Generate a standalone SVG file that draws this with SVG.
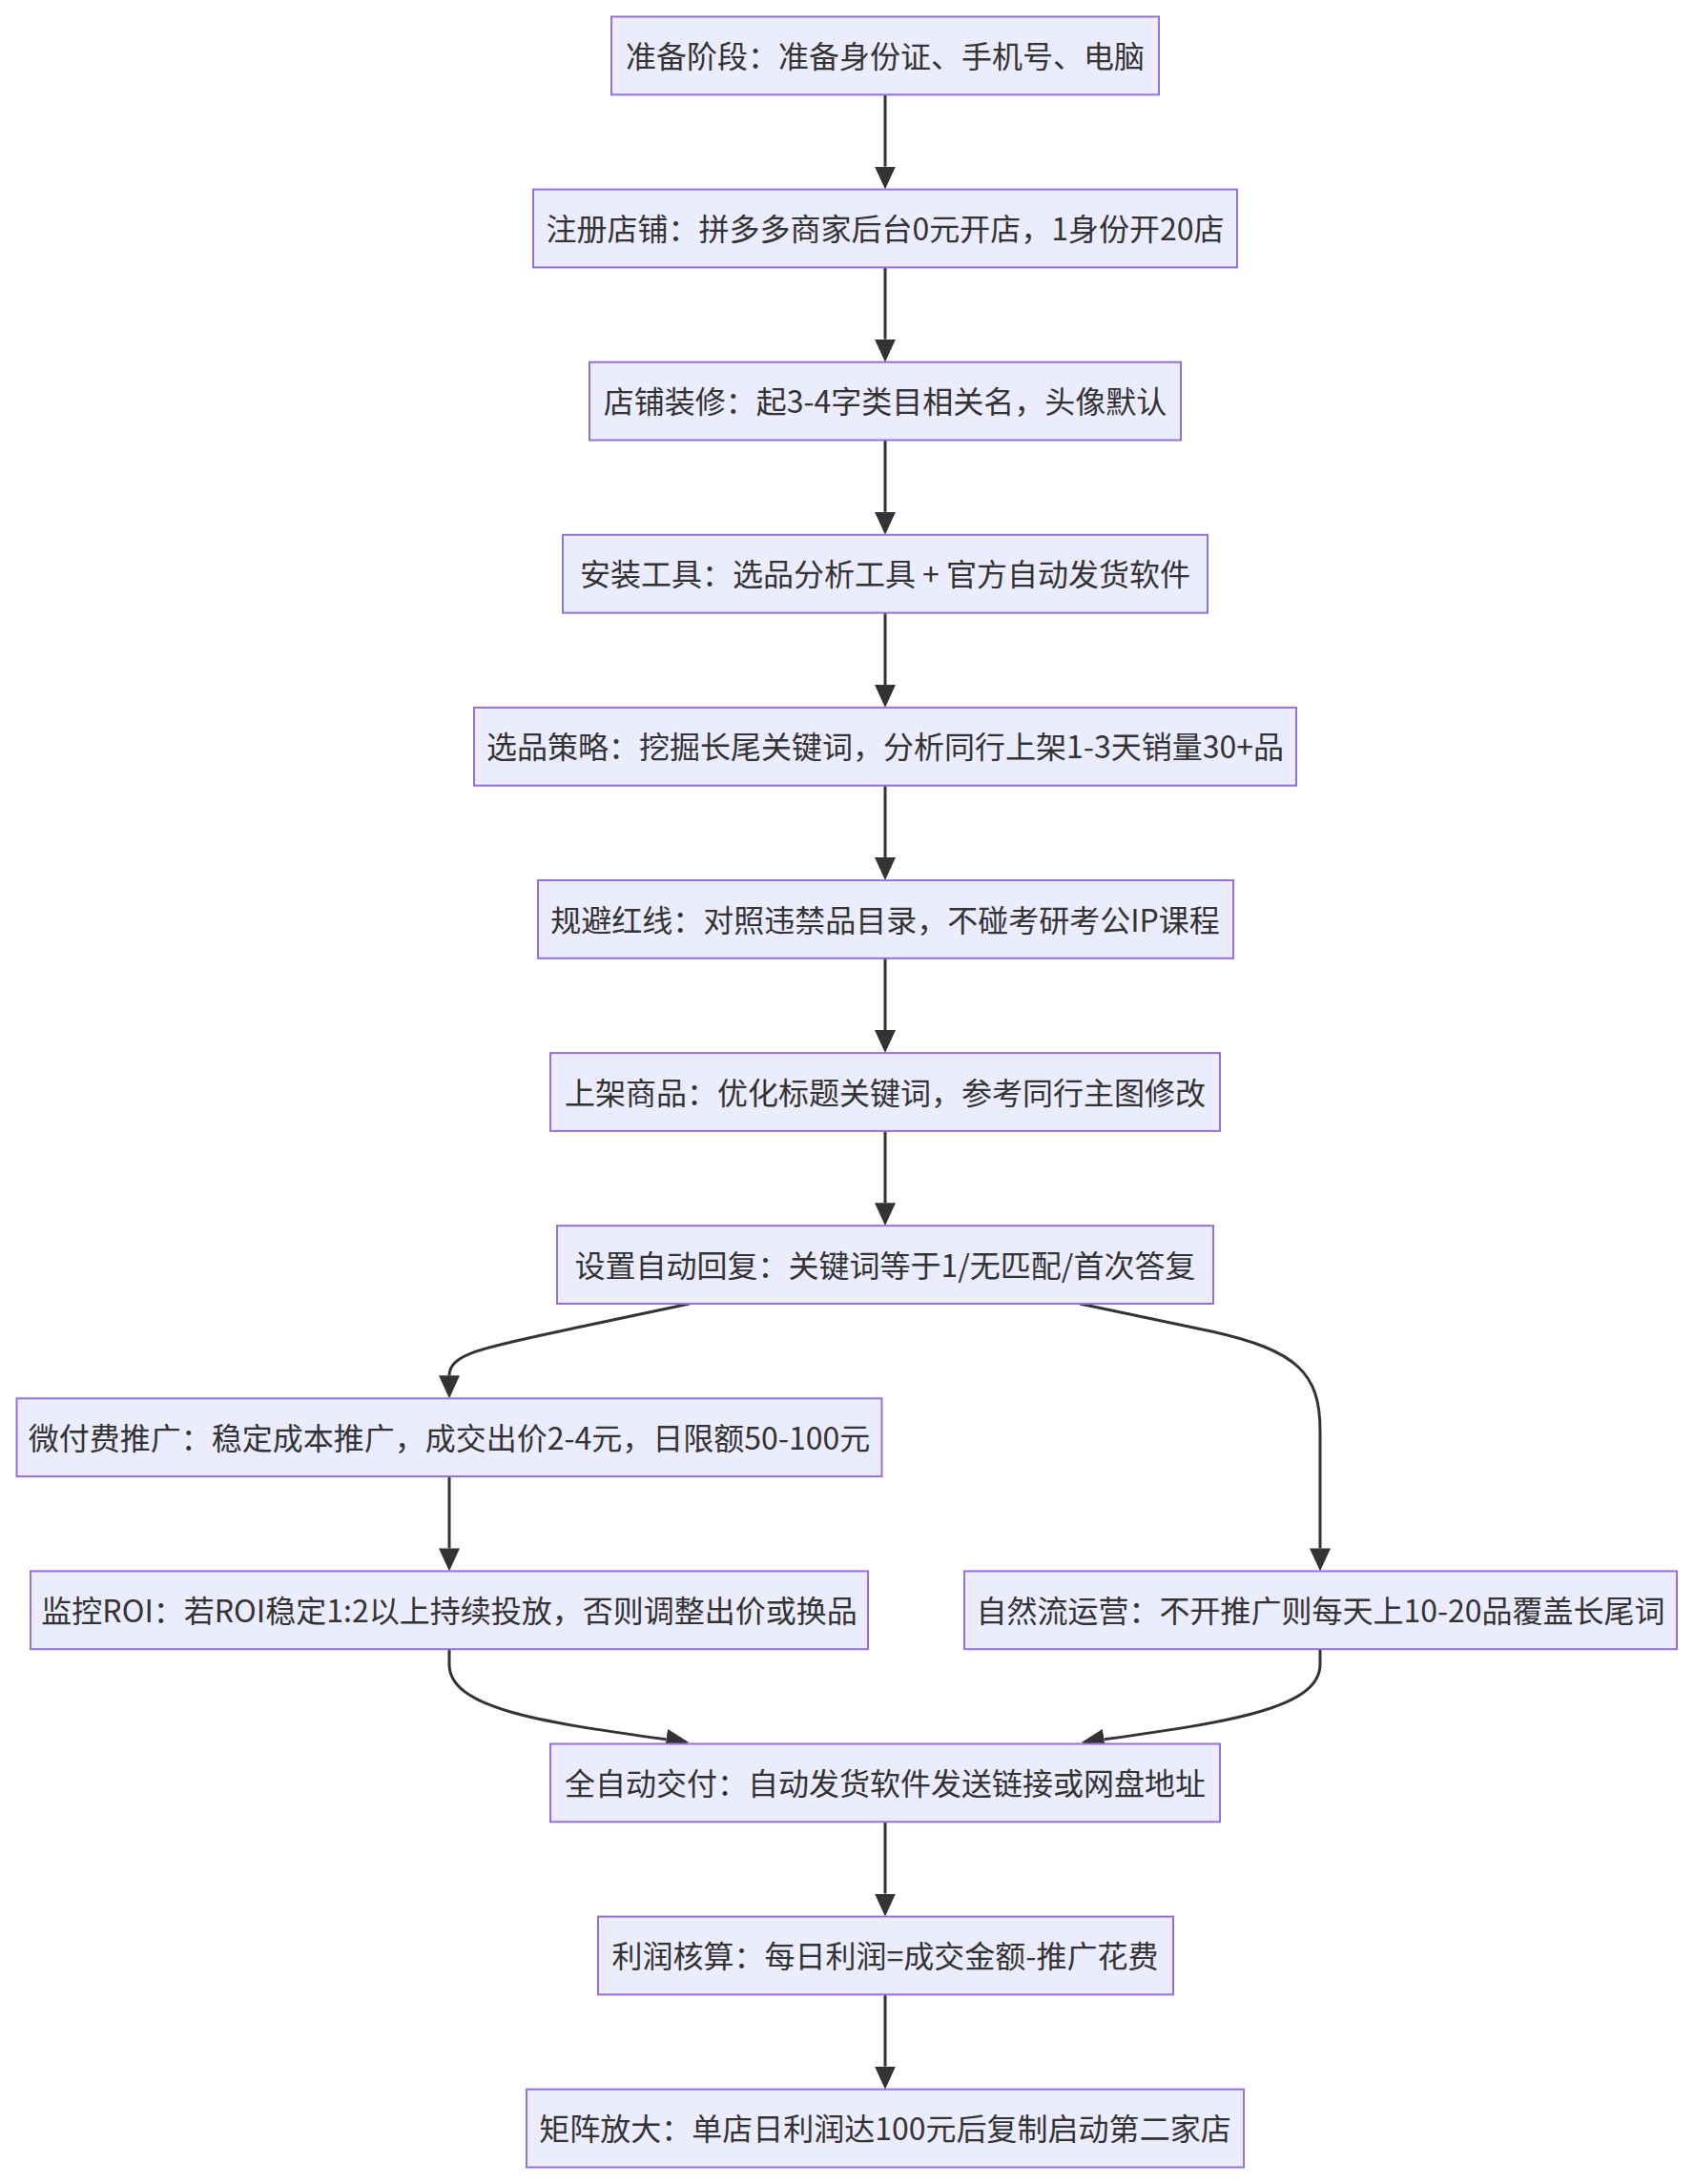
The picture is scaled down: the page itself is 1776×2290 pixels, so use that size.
<svg xmlns="http://www.w3.org/2000/svg" width="1776" height="2290" viewBox="0 0 1776 2290">
<style>
.node rect{fill:#ECECFF;stroke:#9370DB;stroke-width:2}
.node text{font-family:"Noto Sans CJK SC","Liberation Sans",sans-serif;font-size:32px;fill:#333;text-anchor:middle;dominant-baseline:central}
.edges path{fill:none;stroke:#333;stroke-width:3;marker-end:url(#arr)}
</style>
<defs>
<marker id="arr" viewBox="0 0 24 22" refX="0" refY="11" markerWidth="24" markerHeight="22" markerUnits="userSpaceOnUse" orient="auto"><path d="M0,0 L24,11 L0,22 z" fill="#333"/></marker>
</defs>
<rect width="1776" height="2290" fill="#fff"/>
<g class="edges">
<path d="M928,99.3 V174.6"/>
<path d="M928,280.4 V355.7"/>
<path d="M928,461.5 V536.8"/>
<path d="M928,642.6 V717.9"/>
<path d="M928,823.7 V899"/>
<path d="M928,1004.8 V1080.1"/>
<path d="M928,1185.9 V1261.2"/>
<path d="M723,1367 L600,1393 C505,1413 471,1420 471,1442.3"/>
<path d="M1132,1367 L1270,1396 C1360,1416 1384,1440 1384,1500 L1384,1623.4"/>
<path d="M471,1548.1 V1623.4"/>
<path d="M471,1729.2 L471,1745 C471,1790 560,1805 698.5,1823.8"/>
<path d="M1384,1729.2 L1384,1745 C1384,1790 1295,1805 1157.5,1823.8"/>
<path d="M928,1910.3 V1985.6"/>
<path d="M928,2091.4 V2166.7"/>
</g>
<g id="n1" class="node"><rect x="641" y="17.5" width="574" height="81.8"/><text x="928" y="57">准备阶段：准备身份证、手机号、电脑</text></g>
<g id="n2" class="node"><rect x="559" y="198.6" width="738" height="81.8"/><text x="928" y="238.1">注册店铺：拼多多商家后台0元开店，1身份开20店</text></g>
<g id="n3" class="node"><rect x="618" y="379.7" width="620" height="81.8"/><text x="928" y="419.2">店铺装修：起3-4字类目相关名，头像默认</text></g>
<g id="n4" class="node"><rect x="590" y="560.8" width="676" height="81.8"/><text x="928" y="600.3">安装工具：选品分析工具 + 官方自动发货软件</text></g>
<g id="n5" class="node"><rect x="497" y="741.9" width="862" height="81.8"/><text x="928" y="781.4">选品策略：挖掘长尾关键词，分析同行上架1-3天销量30+品</text></g>
<g id="n6" class="node"><rect x="564" y="923" width="729" height="81.8"/><text x="928" y="962.5">规避红线：对照违禁品目录，不碰考研考公IP课程</text></g>
<g id="n7" class="node"><rect x="577" y="1104.1" width="702" height="81.8"/><text x="928" y="1143.6">上架商品：优化标题关键词，参考同行主图修改</text></g>
<g id="n8" class="node"><rect x="584" y="1285.2" width="688" height="81.8"/><text x="928" y="1324.7">设置自动回复：关键词等于1/无匹配/首次答复</text></g>
<g id="n9" class="node"><rect x="17.5" y="1466.3" width="907" height="81.8"/><text x="471" y="1505.8">微付费推广：稳定成本推广，成交出价2-4元，日限额50-100元</text></g>
<g id="n10" class="node"><rect x="32" y="1647.4" width="878" height="81.8"/><text x="471" y="1686.9">监控ROI：若ROI稳定1:2以上持续投放，否则调整出价或换品</text></g>
<g id="n11" class="node"><rect x="1011" y="1647.4" width="747" height="81.8"/><text x="1384.5" y="1686.9">自然流运营：不开推广则每天上10-20品覆盖长尾词</text></g>
<g id="n12" class="node"><rect x="577" y="1828.5" width="702" height="81.8"/><text x="928" y="1868">全自动交付：自动发货软件发送链接或网盘地址</text></g>
<g id="n13" class="node"><rect x="627" y="2009.6" width="603" height="81.8"/><text x="928" y="2049.1">利润核算：每日利润=成交金额-推广花费</text></g>
<g id="n14" class="node"><rect x="552" y="2190.7" width="752" height="81.8"/><text x="928" y="2230.2">矩阵放大：单店日利润达100元后复制启动第二家店</text></g>
</svg>
